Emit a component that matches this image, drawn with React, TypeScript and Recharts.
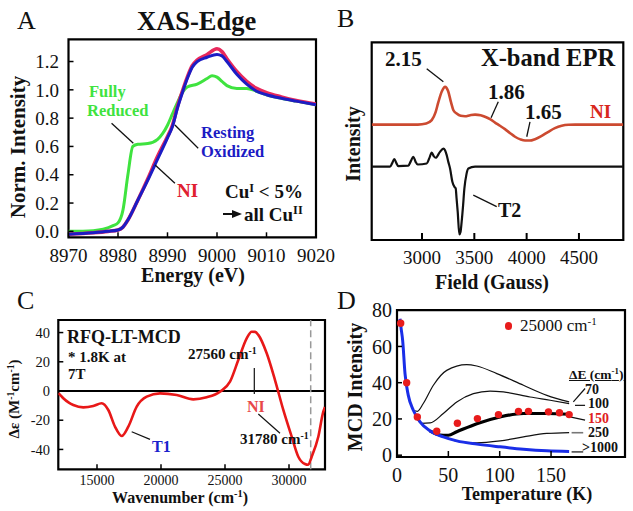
import React from 'react';
import { ComposedChart, Line, Scatter, XAxis, YAxis, ReferenceArea, ReferenceLine } from 'recharts';

const SERIF = "Liberation Serif, Tinos, 'Times New Roman', Times, 'DejaVu Serif', serif";
const W = 633;
const H = 511;

// ---------- Panel A : XAS edge ----------
const xasEnergy = [8970, 8975, 8978, 8980, 8981, 8982, 8984, 8986, 8988, 8990, 8991, 8992, 8993, 8994, 8995, 8996, 8998, 9000, 9001, 9002, 9004, 9006, 9008, 9010, 9013, 9016, 9020];
const xasResting = [-0.02, -0.01, 0.0, 0.01, 0.03, 0.08, 0.22, 0.36, 0.51, 0.66, 0.74, 0.87, 0.98, 1.08, 1.16, 1.2, 1.23, 1.25, 1.24, 1.2, 1.11, 1.04, 0.99, 0.965, 0.94, 0.92, 0.895];
const xasNI = [-0.02, -0.01, 0.0, 0.01, 0.03, 0.08, 0.22, 0.37, 0.53, 0.67, 0.75, 0.88, 0.99, 1.09, 1.17, 1.21, 1.25, 1.29, 1.27, 1.22, 1.13, 1.06, 1.01, 0.98, 0.95, 0.925, 0.9];
const xasReducedEnergy = [8970, 8975, 8977, 8979, 8980, 8981, 8982, 8983, 8984, 8986, 8988, 8989, 8990, 8991, 8992, 8993, 8994, 8996, 8998, 8999, 9000, 9001, 9002, 9004, 9006, 9008, 9010, 9013, 9016, 9020];
const xasReduced = [0.0, 0.005, 0.015, 0.04, 0.06, 0.15, 0.4, 0.6, 0.615, 0.62, 0.65, 0.69, 0.75, 0.83, 0.91, 0.98, 1.02, 1.04, 1.08, 1.1, 1.09, 1.06, 1.03, 1.01, 1.01, 0.99, 0.965, 0.94, 0.92, 0.895];
const xasXTicks = [8970, 8980, 8990, 9000, 9010, 9020];
const xasYTicks = [0, 0.2, 0.4, 0.6, 0.8, 1.0, 1.2];

// ---------- Panel B : EPR ----------
const eprNIField = [2519, 2960, 3040, 3093, 3130, 3156, 3190, 3220, 3250, 3277, 3300, 3331, 3370, 3411, 3460, 3507, 3560, 3602, 3650, 3698, 3745, 3793, 3840, 3889, 3940, 3985, 4030, 4080, 4140, 4208, 4270, 4335, 4400, 4463, 4924];
const eprNI = [58.8, 58.8, 59.3, 61, 65, 70, 75.5, 77.7, 75.5, 70, 66, 64.3, 63.2, 63, 63.5, 63.8, 63.5, 62.7, 61.5, 59.8, 58.2, 56.5, 54.6, 52.7, 51.4, 50.8, 50.8, 51.5, 53, 55.2, 57, 58.2, 58.7, 58.8, 58.8];
const eprT2Field = [2519, 2694, 2715, 2735, 2755, 2773, 2869, 2893, 2917, 2940, 2959, 3045, 3070, 3093, 3112, 3131, 3170, 3204, 3220, 3236, 3252, 3268, 3290, 3309, 3322, 3330, 3341, 3357, 3368, 3379, 3392, 3405, 3425, 3443, 3507, 4924];
const eprT2 = [37.7, 37.7, 39.5, 41.5, 39.5, 38, 38.2, 40.5, 42.7, 40, 38.8, 39.3, 42, 44.8, 43, 42.2, 45, 46.8, 46, 43.5, 40, 36.8, 30.2, 27.7, 26.8, 22, 15.2, 3.8, 5, 10.2, 18, 26.8, 34, 36.8, 37.7, 37.7];
const eprXTicks = [3000, 3500, 4000, 4500];

// ---------- Panel C : MCD spectrum ----------
const mcdWavenumber = [11977, 12100, 12367, 12800, 13148, 13930, 14710, 15367, 15883, 16406, 16930, 17445, 18102, 18883, 19922, 21227, 22523, 23570, 24609, 25391, 26039, 26695, 27086, 27350, 27602, 28258, 28906, 29555, 30211, 30727, 31250, 31500, 31773, 32289, 32680, 32812];
const mcdDelta = [-1.5, -2.5, -5, -8, -9.6, -11.2, -10.3, -8.4, -13, -24.4, -30.8, -24.4, -10.7, -3.9, -1.6, -2.7, -5.7, -4.3, -0.5, 6.4, 21.2, 36, 40.6, 40.5, 38.4, 25.8, 7.5, -13, -31.3, -45, -50, -50.5, -45, -31.3, -14.2, -11];
const mcdXTicks = [15000, 20000, 25000, 30000];
const mcdYTicks = [-40, -20, 0, 20, 40];

// ---------- Panel D : VTVH MCD ----------
const dotTemp = [3.6, 9.4, 19.8, 38.7, 58.8, 78.3, 98.8, 118.3, 128, 147.5, 158.2, 167.6];
const dotIntensity = [72.8, 40, 21.1, 13.2, 17.6, 20.2, 22.4, 24.2, 24.2, 23.9, 23.4, 22.4];
const fit1000Temp = [2.9, 4, 5.5, 7.8, 11, 15.9, 22.4, 32.2, 45.1, 58.2, 77.7, 100.4, 123.1, 145.9, 167.6];
const fit1000 = [75.3, 70, 63.4, 45, 33, 24.8, 18.4, 13.4, 10.1, 7.9, 6.1, 4.6, 3.3, 2.4, 2.0];
const fit70Temp = [15.9, 19.8, 25.6, 35.4, 48.4, 67.9, 77.7, 97.2, 123.1, 145.9, 167.6];
const fit70 = [24.8, 24.2, 28.5, 38.6, 46.8, 50, 49.2, 45, 38.6, 33, 29.4];
const fit100Temp = [20, 24, 32.2, 45.1, 58.2, 74.4, 90.6, 103.6, 129.6, 149.1, 167.6];
const fit100 = [19.5, 17.6, 17.8, 23, 29.4, 34, 35.4, 34.9, 32.1, 30.3, 28.5];
const fit150Temp = [32, 38.7, 45.1, 50, 58.2, 77.7, 100.4, 123.1, 145.9, 167.6];
const fit150 = [13.4, 11.6, 11, 11, 12.9, 17.4, 21.1, 23, 23, 22.6];
const fit250Temp = [55, 65, 77.7, 100.4, 123.1, 145.9, 167.6];
const fit250 = [8.2, 7.2, 6.8, 7.9, 10.1, 12, 12.5];
const vtvhXTicks = [0, 50, 100, 150];
const vtvhYTicks = [0, 20, 40, 60, 80];

const pts = (xs: number[], ys: number[]) => xs.map((x, i) => ({ x, y: ys[i] }));

const tickStyle = (size: number) => ({ fontSize: size, fontFamily: SERIF, fill: '#111', style: { fontFamily: SERIF } });
const tickLine = { stroke: '#000', strokeWidth: 1.5 };

type TP = { x: number; y: number; size: number; bold?: boolean; color?: string; center?: boolean; children: React.ReactNode; style?: React.CSSProperties };
const T = ({ x, y, size, bold, color, center, children, style }: TP) => (
  <div
    style={{
      position: 'absolute',
      left: x,
      top: y - 0.84 * size,
      fontSize: size,
      lineHeight: 1,
      fontFamily: SERIF,
      fontWeight: bold ? 'bold' : 'normal',
      color: color || '#111',
      whiteSpace: 'nowrap',
      transform: center ? 'translateX(-50%)' : undefined,
      ...style,
    }}
  >
    {children}
  </div>
);

const RT = ({ cx, cy, size, children }: { cx: number; cy: number; size: number; children: React.ReactNode }) => (
  <div
    style={{
      position: 'absolute',
      left: cx,
      top: cy,
      fontSize: size,
      lineHeight: 1,
      fontFamily: SERIF,
      fontWeight: 'bold',
      color: '#111',
      whiteSpace: 'nowrap',
      transform: 'translate(-50%, -50%) rotate(-90deg)',
    }}
  >
    {children}
  </div>
);

const Sup = ({ children }: { children: React.ReactNode }) => (
  <span style={{ fontSize: '0.65em', position: 'relative', top: '-0.55em' }}>{children}</span>
);

const abs: React.CSSProperties = { position: 'absolute', left: 0, top: 0 };

export default function App() {
  return (
    <div style={{ position: 'absolute', left: 0, top: 0, width: W, height: H, background: '#fff', overflow: 'hidden', fontFamily: SERIF }}>
      {/* Panel A */}
      <div style={abs}>
        <ComposedChart width={W} height={H} margin={{ top: 39.3, right: W - 316, left: 0, bottom: H - 237.3 - 30 }}>
          <XAxis type="number" dataKey="x" domain={[8970, 9020]} ticks={xasXTicks} interval={0} allowDataOverflow height={30}
            axisLine={false} tickSize={-5} tickMargin={16} tickLine={tickLine} tick={tickStyle(19)} />
          <YAxis type="number" domain={[-0.042, 1.357]} ticks={xasYTicks} interval={0} allowDataOverflow width={68.5}
            axisLine={false} tickSize={-5} tickMargin={14.5} tickLine={tickLine} tick={tickStyle(19)} tickFormatter={(v: number) => v.toFixed(1)} />
          <ReferenceArea x1={8970} x2={9020} y1={-0.042} y2={1.357} fill="none" stroke="#000" strokeWidth={2.2} ifOverflow="visible" />
          <Line data={pts(xasReducedEnergy, xasReduced)} dataKey="y" type="monotone" stroke="#3fe33f" strokeWidth={3} dot={false} isAnimationActive={false} />
          <Line data={pts(xasEnergy, xasNI)} dataKey="y" type="monotone" stroke="#e8285c" strokeWidth={3.6} dot={false} isAnimationActive={false} />
          <Line data={pts(xasEnergy, xasResting)} dataKey="y" type="monotone" stroke="#1c1cc4" strokeWidth={3} dot={false} isAnimationActive={false} />
          <ReferenceLine segment={[{ x: 8978.7, y: 0.764 }, { x: 8983.1, y: 0.623 }]} stroke="#111" strokeWidth={1.3} ifOverflow="visible" />
          <ReferenceLine segment={[{ x: 8991.5, y: 0.752 }, { x: 8996.2, y: 0.587 }]} stroke="#111" strokeWidth={1.3} ifOverflow="visible" />
          <ReferenceLine segment={[{ x: 8987.5, y: 0.469 }, { x: 8991.5, y: 0.34 }]} stroke="#111" strokeWidth={1.3} ifOverflow="visible" />
        </ComposedChart>
      </div>

      {/* Panel B */}
      <div style={abs}>
        <ComposedChart width={W} height={H} margin={{ top: 42.3, right: W - 623.3, left: 371.7, bottom: H - 240 - 30 }}>
          <XAxis type="number" dataKey="x" domain={[2519, 4924]} ticks={eprXTicks} interval={0} allowDataOverflow height={30}
            axisLine={false} tickSize={-7} tickMargin={18} tickLine={{ stroke: '#000', strokeWidth: 2 }} tick={tickStyle(19)} />
          <YAxis type="number" domain={[1, 100]} hide allowDataOverflow />
          <ReferenceArea x1={2519} x2={4924} y1={1} y2={100} fill="none" stroke="#000" strokeWidth={2.2} ifOverflow="visible" />
          <Line data={pts(eprT2Field, eprT2)} dataKey="y" type="monotone" stroke="#111" strokeWidth={2.2} dot={false} isAnimationActive={false} />
          <Line data={pts(eprNIField, eprNI)} dataKey="y" type="monotone" stroke="#cc4a30" strokeWidth={2.6} dot={false} isAnimationActive={false} />
          <ReferenceLine segment={[{ x: 3045, y: 86.8 }, { x: 3204, y: 80.2 }]} stroke="#111" strokeWidth={1.3} ifOverflow="visible" />
          <ReferenceLine segment={[{ x: 3729, y: 70.2 }, { x: 3660, y: 62.2 }]} stroke="#111" strokeWidth={1.3} ifOverflow="visible" />
          <ReferenceLine segment={[{ x: 4032, y: 60.2 }, { x: 4001, y: 52.7 }]} stroke="#111" strokeWidth={1.3} ifOverflow="visible" />
          <ReferenceLine segment={[{ x: 3490, y: 23.5 }, { x: 3714, y: 17.7 }]} stroke="#111" strokeWidth={1.3} ifOverflow="visible" />
        </ComposedChart>
      </div>

      {/* Panel C */}
      <div style={abs}>
        <ComposedChart width={W} height={H} margin={{ top: 320, right: W - 325, left: 0, bottom: H - 469.3 - 30 }}>
          <XAxis type="number" dataKey="x" domain={[11977, 32812]} ticks={mcdXTicks} interval={0} allowDataOverflow height={30}
            axisLine={false} tickSize={-5} tickMargin={11} tickLine={tickLine} tick={tickStyle(14)} />
          <YAxis type="number" domain={[-53.6, 48.6]} ticks={mcdYTicks} interval={0} allowDataOverflow width={58.3}
            axisLine={false} tickSize={-5} tickMargin={13.3} tickLine={tickLine} tick={tickStyle(14.5)} />
          <ReferenceArea x1={11977} x2={32812} y1={-53.6} y2={48.6} fill="none" stroke="#000" strokeWidth={2.2} ifOverflow="visible" />
          <ReferenceLine y={0} stroke="#000" strokeWidth={2} />
          <ReferenceLine x={31695} stroke="#999" strokeWidth={1.5} strokeDasharray="7 4" />
          <Line data={pts(mcdWavenumber, mcdDelta)} dataKey="y" type="monotone" stroke="#e81818" strokeWidth={2.6} dot={false} isAnimationActive={false} />
          <ReferenceLine segment={[{ x: 27289, y: 15.75 }, { x: 27289, y: -2 }]} stroke="#111" strokeWidth={1.2} ifOverflow="visible" />
          <ReferenceLine segment={[{ x: 27602, y: -15.75 }, { x: 29297, y: -28.9 }]} stroke="#111" strokeWidth={1.2} ifOverflow="visible" />
          <ReferenceLine segment={[{ x: 17711, y: -27.9 }, { x: 19141, y: -33.1 }]} stroke="#111" strokeWidth={1.2} ifOverflow="visible" />
        </ComposedChart>
      </div>

      {/* Panel D */}
      <div style={abs}>
        <ComposedChart width={W} height={H} margin={{ top: 310.2, right: W - 625, left: 347, bottom: H - 457 - 30 }}>
          <XAxis type="number" dataKey="x" domain={[0, 222]} ticks={vtvhXTicks} interval={0} allowDataOverflow height={30}
            axisLine={false} tickSize={-6} tickMargin={16.5} tickLine={tickLine} tick={tickStyle(20)} />
          <YAxis type="number" domain={[-1, 80]} ticks={vtvhYTicks} interval={0} allowDataOverflow width={50}
            axisLine={false} tickSize={-5} tickMargin={10} tickLine={tickLine} tick={tickStyle(20)} />
          <ReferenceArea x1={0} x2={222} y1={-1} y2={80} fill="none" stroke="#000" strokeWidth={2.2} ifOverflow="visible" />
          <Line data={pts(fit70Temp, fit70)} dataKey="y" type="monotone" stroke="#111" strokeWidth={1.2} dot={false} isAnimationActive={false} />
          <Line data={pts(fit100Temp, fit100)} dataKey="y" type="monotone" stroke="#111" strokeWidth={1.2} dot={false} isAnimationActive={false} />
          <Line data={pts(fit250Temp, fit250)} dataKey="y" type="monotone" stroke="#111" strokeWidth={1.2} dot={false} isAnimationActive={false} />
          <Line data={pts(fit150Temp, fit150)} dataKey="y" type="monotone" stroke="#000" strokeWidth={3.2} dot={false} isAnimationActive={false} />
          <Line data={pts(fit1000Temp, fit1000)} dataKey="y" type="monotone" stroke="#1a2ee8" strokeWidth={3} dot={false} isAnimationActive={false} />
          <Scatter data={pts(dotTemp, dotIntensity)} dataKey="y" isAnimationActive={false}
            shape={(p: any) => <circle cx={p.cx} cy={p.cy} r={3.7} fill="#e81c1c" />} />
          <ReferenceLine segment={[{ x: 171.7, y: 29.4 }, { x: 183.1, y: 36.8 }]} stroke="#111" strokeWidth={1.2} ifOverflow="visible" />
          <ReferenceLine segment={[{ x: 173.3, y: 27.5 }, { x: 183.1, y: 27.5 }]} stroke="#111" strokeWidth={1.2} ifOverflow="visible" />
          <ReferenceLine segment={[{ x: 168.4, y: 21.1 }, { x: 183.1, y: 19.3 }]} stroke="#111" strokeWidth={1.2} ifOverflow="visible" />
          <ReferenceLine segment={[{ x: 170, y: 12.4 }, { x: 181.3, y: 12.4 }]} stroke="#777" strokeWidth={1.6} ifOverflow="visible" />
          <ReferenceLine segment={[{ x: 170, y: 1.8 }, { x: 181.3, y: 1.8 }]} stroke="#111" strokeWidth={1.2} ifOverflow="visible" />
        </ComposedChart>
      </div>

      {/* Text: panel A */}
      <T x={17} y={30} size={26}>A</T>
      <T x={137} y={30} size={26.5} bold>XAS-Edge</T>
      <RT cx={18} cy={147} size={21}>Norm. Intensity</RT>
      <T x={193} y={282} size={20} bold center>Energy (eV)</T>
      <T x={89} y={98} size={16.5} bold color="#3fe33f">Fully</T>
      <T x={87} y={117} size={16.5} bold color="#3fe33f">Reduced</T>
      <T x={201} y={138.5} size={16.5} bold color="#1c1cc4">Resting</T>
      <T x={201} y={158.3} size={16.5} bold color="#1c1cc4">Oxidized</T>
      <T x={177} y={197} size={19} bold color="#e02030">NI</T>
      <T x={225} y={198.3} size={19} bold>Cu<Sup>I</Sup> &lt; 5%</T>
      <svg style={{ position: 'absolute', left: 222, top: 209 }} width={22} height={10}>
        <line x1={1} y1={5} x2={12} y2={5} stroke="#111" strokeWidth={2} />
        <polygon points="10,1 20,5 10,9" fill="#111" />
      </svg>
      <T x={244} y={221} size={19} bold>all Cu<Sup>II</Sup></T>

      {/* Text: panel B */}
      <T x={337} y={28} size={26}>B</T>
      <T x={481} y={66.7} size={24.5} bold>X-band EPR</T>
      <T x={385} y={67} size={21} bold>2.15</T>
      <T x={488} y={100} size={21} bold>1.86</T>
      <T x={525} y={120} size={21} bold>1.65</T>
      <T x={590} y={118} size={19} bold color="#d8281c">NI</T>
      <T x={498} y={216.7} size={20} bold>T2</T>
      <RT cx={353} cy={144} size={20}>Intensity</RT>
      <T x={492} y={289} size={20} bold center>Field (Gauss)</T>

      {/* Text: panel C */}
      <T x={17} y={310} size={26}>C</T>
      <T x={67} y={343} size={18} bold>RFQ-LT-MCD</T>
      <T x={68} y={363} size={15} bold>* 1.8K at</T>
      <T x={68} y={380} size={15} bold>7T</T>
      <T x={188} y={360} size={15} bold>27560 cm<Sup>-1</Sup></T>
      <T x={247} y={412} size={16} bold color="#e84848">NI</T>
      <T x={240} y={445} size={15} bold>31780 cm<Sup>-1</Sup></T>
      <T x={152} y={452} size={16} bold color="#1a22cc">T1</T>
      <RT cx={14} cy={398.5} size={15}>Δε (M<Sup>-1</Sup>cm<Sup>-1</Sup>)</RT>
      <T x={180} y={503} size={16} bold center>Wavenumber (cm<Sup>-1</Sup>)</T>

      {/* Text: panel D */}
      <T x={337} y={310} size={26}>D</T>
      <div style={{ position: 'absolute', left: 508.3 - 3.7, top: 326 - 3.7, width: 7.4, height: 7.4, borderRadius: '50%', background: '#e81c1c' }} />
      <T x={520} y={331} size={17}>25000 cm<Sup>-1</Sup></T>
      <RT cx={355} cy={387} size={20}>MCD Intensity</RT>
      <T x={527} y={500} size={18} bold center>Temperature (K)</T>
      <T x={569} y={379} size={13.5} bold style={{ textDecoration: 'underline' }}>ΔE (cm<Sup>-1</Sup>)</T>
      <T x={585} y={394.5} size={14} bold>70</T>
      <T x={588} y={408.5} size={14} bold>100</T>
      <T x={588} y={423.5} size={14} bold color="#e02020">150</T>
      <T x={588} y={437.5} size={14} bold>250</T>
      <T x={582} y={452.5} size={14} bold>&gt;1000</T>
    </div>
  );
}
